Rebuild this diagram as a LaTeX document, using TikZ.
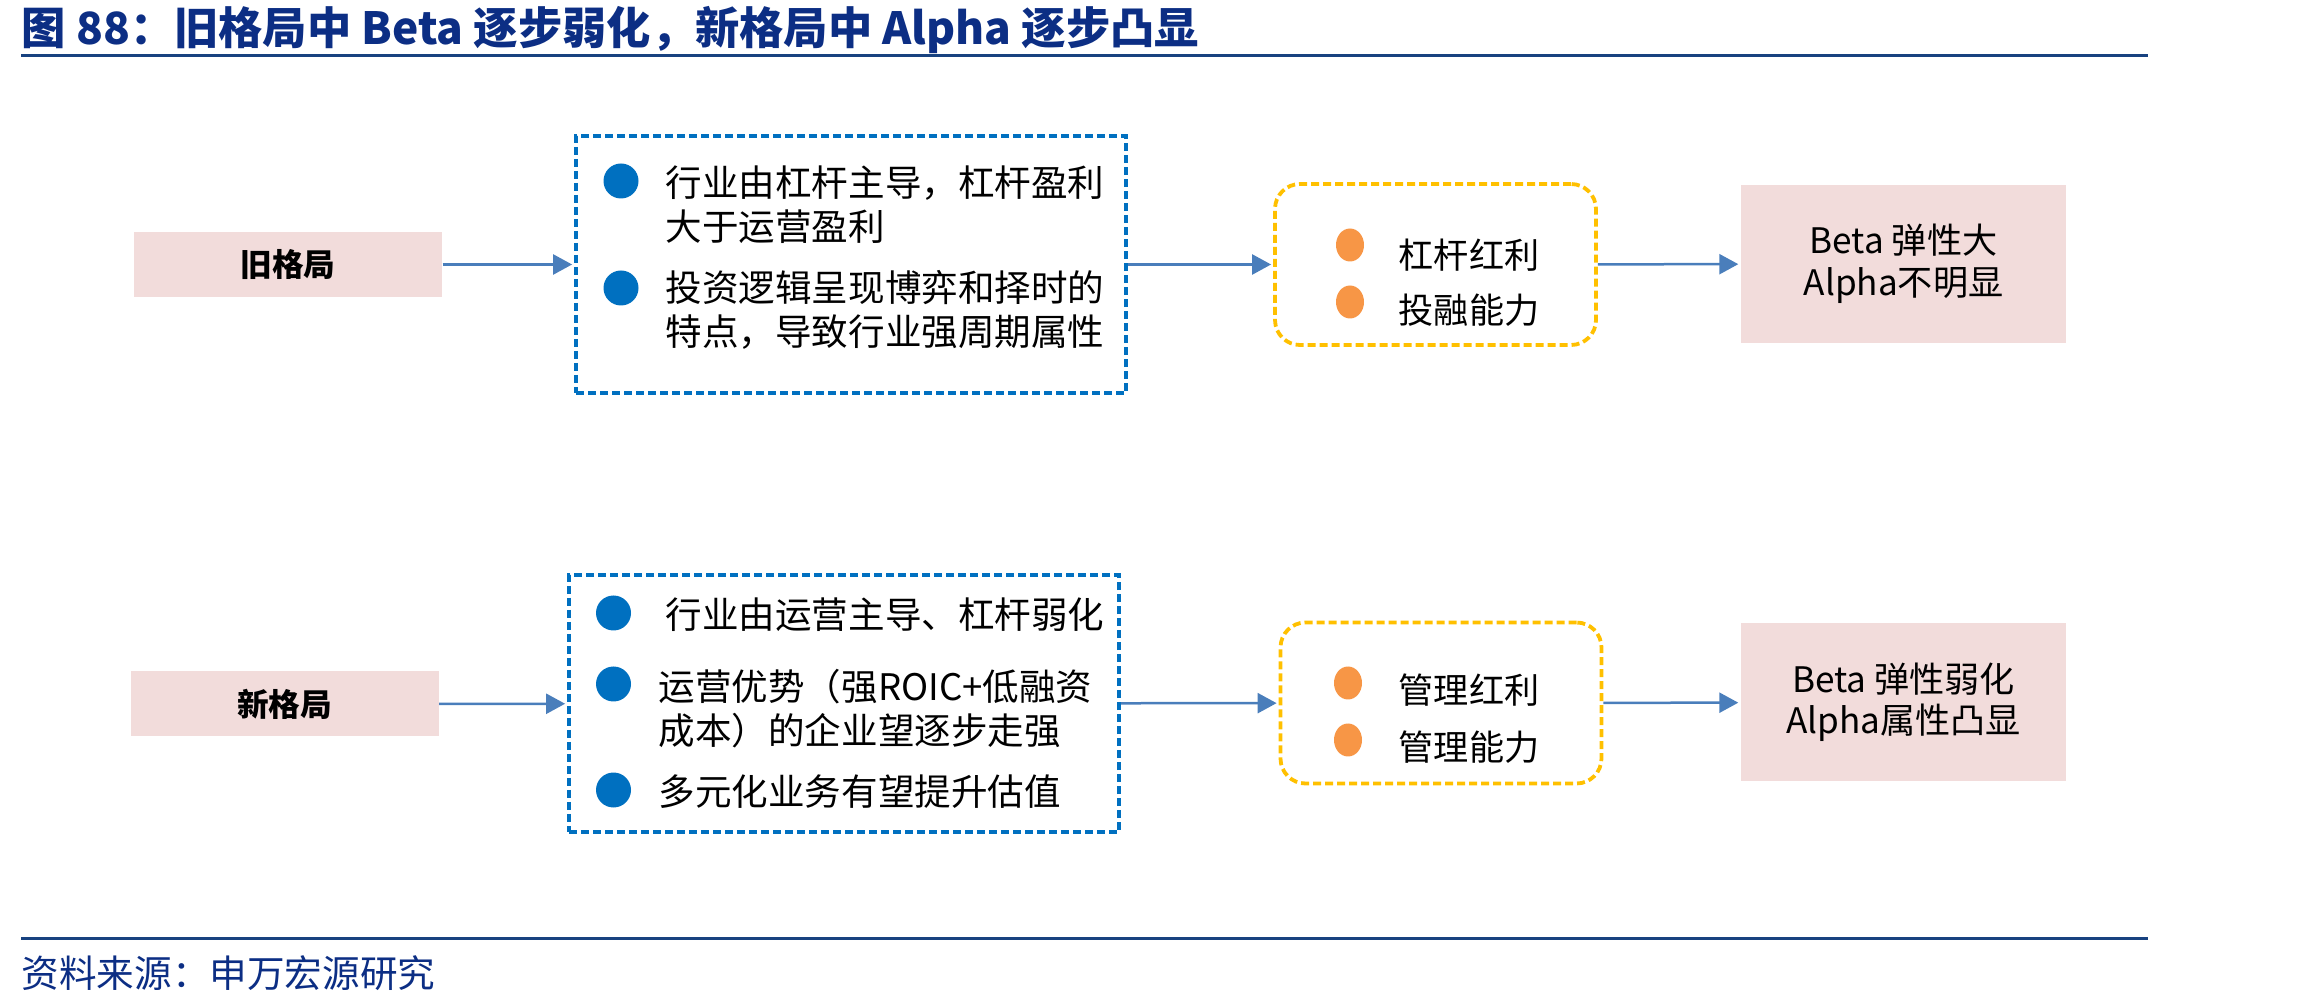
\documentclass[tikz,border=0pt]{standalone}
\usepackage{fontspec}
\setmainfont{Noto Sans CJK SC}
\usetikzlibrary{positioning,arrows.meta,shapes.geometric}
\definecolor{navy}{RGB}{12,46,132}
\definecolor{rulec}{RGB}{24,66,128}
\definecolor{dblue}{RGB}{0,112,192}
\definecolor{dorange}{RGB}{247,150,70}
\definecolor{dyellow}{RGB}{255,192,0}
\definecolor{dpink}{RGB}{242,220,219}
\definecolor{arr}{RGB}{74,126,187}
\tikzset{x=0.1mm,y=-0.1mm,
ar/.style={draw=arr,line width=0.25mm,-{Triangle[length=1.9mm,width=2mm]},shorten >=0.2mm},
sc/.style={fill=dpink,minimum width=30.8mm,minimum height=6.5mm,font=\fontsize{9pt}{11pt}\selectfont\bfseries},
bl/.style={draw=dblue,dash pattern=on 0.8mm off 0.4mm,line width=0.38mm,minimum width=55mm,minimum height=25.7mm},
yb/.style={draw=dyellow,dash pattern=on 0.8mm off 0.4mm,line width=0.38mm,rounded corners=2.5mm,minimum width=32.1mm,minimum height=16.1mm},
rs/.style={fill=dpink,minimum width=32.5mm,minimum height=15.8mm,align=center,font=\fontsize{10pt}{11.8pt}\selectfont},
bd/.style={circle,fill=dblue,minimum size=3.5mm,inner sep=0pt},
od/.style={ellipse,fill=dorange,minimum width=2.8mm,minimum height=3.3mm,inner sep=0pt},
tx/.style={anchor=west,align=left,inner sep=0pt,font=\fontsize{10.4pt}{12.5pt}\selectfont},
ty/.style={anchor=west,inner sep=0pt,font=\fontsize{10pt}{12pt}\selectfont},
}
\begin{document}
\begin{tikzpicture}
	\useasboundingbox (0,0) rectangle (2315,1007);
	\node[anchor=west,inner sep=0pt,text=navy,font=\fontsize{12.6pt}{14pt}\selectfont\bfseries] (title) at (21,30) {图 88：旧格局中 Beta 逐步弱化，新格局中 Alpha 逐步凸显};
	\draw[rulec,line width=0.3mm] (21,56) -- (2148,56);
	\draw[rulec,line width=0.3mm] (21,938) -- (2148,938);
	\node[anchor=west,inner sep=0pt,text=navy,font=\fontsize{10.7pt}{12pt}\selectfont] (src) at (21,973) {资料来源：申万宏源研究};

	\node[sc] (old) at (288,264.5) {旧格局};
	\node[bl] (oldl) at (851,264.5) {};
	\node[yb] (oldf) at (1435.5,264.5) {};
	\node[rs] (oldr) at (1903.5,264) {Beta 弹性大\\Alpha不明显};
	\node[bd] (ob1) at (621,181) {};
	\node[tx] (ot1) at (665,205) {行业由杠杆主导，杠杆盈利\\大于运营盈利};
	\node[bd] (ob2) at (621,288) {};
	\node[tx] (ot2) at (665,310) {投资逻辑呈现博弈和择时的\\特点，导致行业强周期属性};
	\node[od] (of1) at (1350,245) {};
	\node[ty] (os1) at (1398,255) {杠杆红利};
	\node[od] (of2) at (1350,302) {};
	\node[ty] (os2) at (1398,310) {投融能力};

	\node[sc] (new) at (284.5,704) {新格局};
	\node[bl] (newl) at (844,703.5) {};
	\node[yb] (newf) at (1441,703) {};
	\node[rs] (newr) at (1903.5,702.5) {Beta 弹性弱化\\Alpha属性凸显};
	\node[bd] (nb1) at (613.5,613) {};
	\node[tx] (nt1) at (665,615) {行业由运营主导、杠杆弱化};
	\node[bd] (nb2) at (613.5,684) {};
	\node[tx] (nt2) at (658,709) {运营优势（强ROIC+低融资\\成本）的企业望逐步走强};
	\node[bd] (nb3) at (613.5,790) {};
	\node[tx] (nt3) at (658,792) {多元化业务有望提升估值};
	\node[od] (nf1) at (1348,683) {};
	\node[ty] (ns1) at (1398,690) {管理红利};
	\node[od] (nf2) at (1348,740) {};
	\node[ty] (ns2) at (1398,747) {管理能力};

	\path
	(old) edge[ar] (oldl)
	(oldl) edge[ar] (oldf)
	(oldf) edge[ar] (oldr)
	(new) edge[ar] (newl)
	(newl) edge[ar] (newf)
	(newf) edge[ar] (newr)
	;
\end{tikzpicture}
\end{document}
